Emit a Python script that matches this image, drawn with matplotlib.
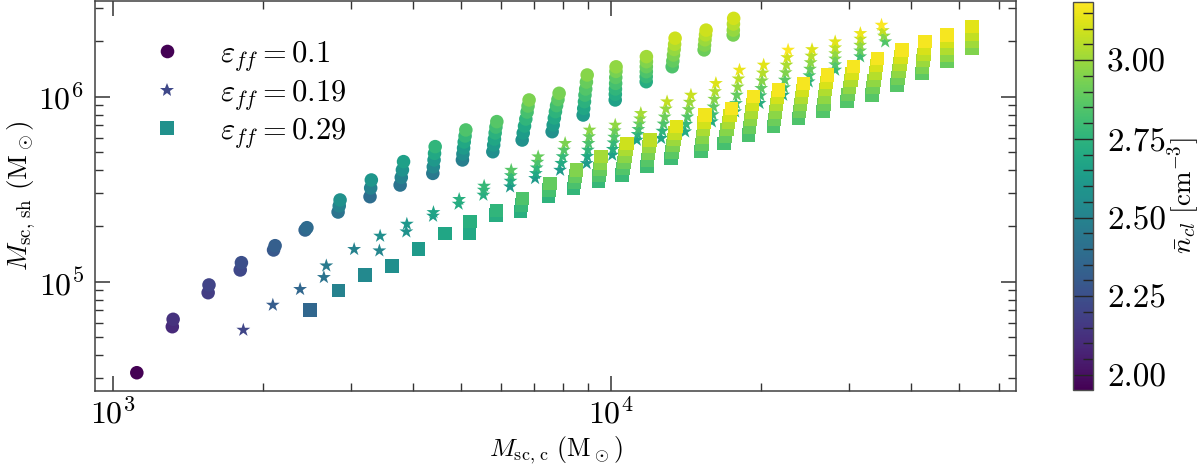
import matplotlib
matplotlib.use('Agg')
import matplotlib.pyplot as plt
from matplotlib.colors import Normalize
from matplotlib.ticker import MultipleLocator, FormatStrFormatter, NullFormatter
from matplotlib.lines import Line2D

plt.rcParams['font.family'] = 'serif'
plt.rcParams['font.serif'] = ['cmr10']
plt.rcParams['mathtext.fontset'] = 'cm'
plt.rcParams['axes.formatter.use_mathtext'] = True
plt.rcParams['axes.unicode_minus'] = False

# ---------------- data: eps_ff = 0.1 (circles) ----------------
circ_x = [1116,
          1315, 1320,
          1552, 1558,
          1800, 1810,
          2100, 2115,
          2430, 2450,
          2830, 2845, 2856,
          3280, 3290, 3300,
          3770, 3790, 3810, 3830,
          4385, 4395, 4410, 4420, 4433,
          5028, 5040, 5055, 5070, 5090, 5108,
          5787, 5810, 5830, 5850, 5870, 5895,
          6627, 6660, 6700, 6740, 6780, 6810, 6843,
          7612, 7650, 7690, 7730, 7770, 7820, 7862,
          8787, 8810, 8840, 8860, 8890, 8920, 8951,
          10190, 10195, 10200, 10210, 10215, 10225, 10230,
          11760, 11760, 11765, 11765, 11770, 11770,
          13260, 13300, 13340, 13380, 13410, 13440,
          15370, 15400, 15430, 15470, 15510,
          17580, 17590, 17600, 17620]
circ_y = [3.22e4,
          5.71e4, 6.26e4,
          8.72e4, 9.60e4,
          1.157e5, 1.267e5,
          1.484e5, 1.565e5,
          1.903e5, 1.958e5,
          2.38e5, 2.57e5, 2.765e5,
          2.88e5, 3.21e5, 3.546e5,
          3.33e5, 3.66e5, 4.02e5, 4.455e5,
          3.85e5, 4.18e5, 4.55e5, 4.94e5, 5.37e5,
          4.55e5, 4.90e5, 5.28e5, 5.69e5, 6.13e5, 6.61e5,
          5.04e5, 5.48e5, 5.90e5, 6.37e5, 6.85e5, 7.33e5,
          5.83e5, 6.36e5, 6.94e5, 7.57e5, 8.26e5, 8.90e5, 9.60e5,
          6.47e5, 7.03e5, 7.67e5, 8.30e5, 8.95e5, 9.65e5, 1.043e6,
          7.96e5, 8.64e5, 9.40e5, 1.02e6, 1.10e6, 1.20e6, 1.31e6,
          9.60e5, 1.03e6, 1.10e6, 1.18e6, 1.27e6, 1.37e6, 1.45e6,
          1.205e6, 1.283e6, 1.365e6, 1.452e6, 1.546e6, 1.646e6,
          1.452e6, 1.56e6, 1.68e6, 1.80e6, 1.92e6, 2.07e6,
          1.79e6, 1.90e6, 2.03e6, 2.16e6, 2.29e6,
          2.155e6, 2.29e6, 2.47e6, 2.65e6]
circ_n = [1.952,
          2.10, 2.13,
          2.17, 2.20,
          2.22, 2.25,
          2.29, 2.32,
          2.35, 2.38,
          2.42, 2.50, 2.57,
          2.39, 2.50, 2.60,
          2.42, 2.50, 2.58, 2.65,
          2.45, 2.53, 2.61, 2.69, 2.76,
          2.48, 2.55, 2.62, 2.69, 2.77, 2.84,
          2.56, 2.62, 2.68, 2.74, 2.80, 2.86,
          2.57, 2.63, 2.69, 2.76, 2.82, 2.88, 2.94,
          2.57, 2.63, 2.69, 2.75, 2.81, 2.87, 2.93,
          2.62, 2.68, 2.74, 2.80, 2.85, 2.90, 2.96,
          2.66, 2.71, 2.76, 2.82, 2.87, 2.93, 2.98,
          2.72, 2.78, 2.84, 2.90, 2.95, 3.01,
          2.84, 2.89, 2.94, 2.99, 3.04, 3.09,
          2.91, 2.95, 3.00, 3.05, 3.09,
          2.93, 2.99, 3.05, 3.10]

# ---------------- data: eps_ff = 0.19 (stars) ----------------
star_x = [1826,
          2093,
          2374,
          2650, 2680,
          3048,
          3425, 3437,
          3880, 3889,
          4390, 4398,
          4940, 4953,
          5540, 5550, 5559,
          6268, 6280, 6290, 6300,
          7036, 7060, 7085, 7110, 7136,
          7898, 7940, 7990, 8040, 8083,
          8930, 8955, 8980, 9005, 9030, 9050,
          10050, 10080, 10110, 10140, 10165, 10190,
          11260, 11300, 11340, 11390, 11430, 11470,
          12600, 12670, 12740, 12810, 12880, 12950,
          14080, 14150, 14230, 14310, 14380, 14460,
          15930, 15990, 16050, 16110, 16170, 16230,
          17740, 17810, 17880, 17950, 18020, 18100,
          19860, 19940, 20010, 20090, 20160, 20240,
          22150, 22240, 22320, 22400, 22490, 22570, 22660,
          24920, 25000, 25080, 25150, 25230, 25310,
          28170, 28170, 28170, 28170, 28170, 28170,
          31620, 31620, 31620, 31650, 31650,
          35500, 35300, 35100, 34900]
star_y = [5.48e4,
          7.48e4,
          9.10e4,
          1.056e5, 1.22e5,
          1.497e5,
          1.471e5, 1.766e5,
          1.863e5, 2.05e5,
          2.265e5, 2.37e5,
          2.63e5, 2.79e5,
          2.942e5, 3.13e5, 3.29e5,
          3.26e5, 3.50e5, 3.75e5, 4.01e5,
          3.62e5, 3.85e5, 4.13e5, 4.43e5, 4.74e5,
          4.01e5, 4.37e5, 4.75e5, 5.15e5, 5.60e5,
          4.36e5, 4.76e5, 5.15e5, 5.60e5, 6.09e5, 6.61e5,
          4.84e5, 5.20e5, 5.64e5, 6.05e5, 6.55e5, 7.03e5,
          5.83e5, 6.26e5, 6.66e5, 7.13e5, 7.60e5, 8.13e5,
          5.96e5, 6.52e5, 7.13e5, 7.78e5, 8.59e5, 9.40e5,
          6.47e5, 7.10e5, 7.78e5, 8.53e5, 9.35e5, 1.021e6,
          7.33e5, 8.00e5, 8.82e5, 9.70e5, 1.067e6, 1.181e6,
          8.30e5, 9.20e5, 1.021e6, 1.13e6, 1.25e6, 1.394e6,
          9.21e5, 1.013e6, 1.11e6, 1.22e6, 1.345e6, 1.484e6,
          1.021e6, 1.12e6, 1.231e6, 1.35e6, 1.484e6, 1.63e6, 1.788e6,
          1.205e6, 1.30e6, 1.41e6, 1.53e6, 1.66e6, 1.80e6,
          1.394e6, 1.49e6, 1.60e6, 1.71e6, 1.84e6, 1.983e6,
          1.646e6, 1.77e6, 1.90e6, 2.05e6, 2.20e6,
          1.983e6, 2.13e6, 2.28e6, 2.44e6]
star_n = [2.21,
          2.31,
          2.36,
          2.42, 2.46,
          2.50,
          2.52, 2.56,
          2.58, 2.61,
          2.64, 2.67,
          2.70, 2.73,
          2.72, 2.75, 2.78,
          2.62, 2.70, 2.78, 2.86,
          2.62, 2.69, 2.76, 2.83, 2.90,
          2.62, 2.70, 2.78, 2.86, 2.94,
          2.62, 2.69, 2.76, 2.83, 2.90, 2.97,
          2.65, 2.72, 2.78, 2.85, 2.91, 2.98,
          2.67, 2.74, 2.81, 2.88, 2.95, 3.02,
          2.68, 2.76, 2.84, 2.91, 2.99, 3.07,
          2.70, 2.78, 2.85, 2.93, 3.00, 3.08,
          2.72, 2.80, 2.88, 2.96, 3.04, 3.12,
          2.72, 2.81, 2.89, 2.98, 3.06, 3.15,
          2.72, 2.80, 2.88, 2.96, 3.05, 3.13,
          2.72, 2.80, 2.87, 2.95, 3.03, 3.10, 3.18,
          2.75, 2.82, 2.90, 2.97, 3.05, 3.12,
          2.78, 2.85, 2.92, 2.99, 3.06, 3.13,
          2.80, 2.89, 2.98, 3.06, 3.15,
          2.85, 2.96, 3.07, 3.18]

# ---------------- data: eps_ff = 0.29 (squares) ----------------
sq_x = [2487,
        2834,
        3206,
        3628,
        4102,
        4642,
        5200, 5211,
        5870, 5883,
        6580, 6610, 6640,
        7480, 7510, 7542,
        8400, 8440, 8480, 8520,
        9430, 9460, 9490, 9520, 9550,
        10520, 10560, 10600, 10650, 10700, 10750,
        11800, 11840, 11880, 11920, 11970,
        13190, 13250, 13320, 13380, 13450, 13520,
        15160, 15220, 15270, 15330, 15380, 15440,
        16860, 16970, 17080, 17200, 17310, 17430,
        18870, 18960, 19040, 19130, 19220, 19310,
        21180, 21280, 21380, 21480, 21580, 21680,
        23770, 23880, 23990, 24100, 24220, 24330,
        26610, 26730, 26840, 26960, 27080, 27190,
        29740, 29920, 30100, 30280, 30470, 30660,
        33390, 33560, 33740, 33910, 34090, 34260,
        37480, 37650, 37830, 38000, 38180, 38350,
        42070, 42190, 42310, 42430, 42540, 42660,
        47220, 47220, 47220, 47220, 47220,
        53000, 53000, 53000, 53000]
sq_y = [7.03e4,
        8.94e4,
        1.087e5,
        1.216e5,
        1.502e5,
        1.826e5,
        1.826e5, 2.11e5,
        2.294e5, 2.424e5,
        2.39e5, 2.597e5, 2.824e5,
        2.88e5, 3.131e5, 3.403e5,
        3.198e5, 3.458e5, 3.727e5, 4.015e5,
        3.471e5, 3.755e5, 4.065e5, 4.393e5, 4.74e5,
        3.773e5, 4.08e5, 4.42e5, 4.78e5, 5.17e5, 5.598e5,
        4.184e5, 4.548e5, 4.943e5, 5.366e5, 5.833e5,
        4.645e5, 5.023e5, 5.435e5, 5.876e5, 6.365e5, 6.884e5,
        5.042e5, 5.523e5, 6.054e5, 6.633e5, 7.261e5, 7.962e5,
        5.598e5, 6.107e5, 6.665e5, 7.271e5, 7.933e5, 8.655e5,
        6.207e5, 6.833e5, 7.509e5, 8.266e5, 9.098e5, 1.0e6,
        6.884e5, 7.538e5, 8.256e5, 9.051e5, 9.913e5, 1.087e6,
        7.643e5, 8.337e5, 9.098e5, 9.925e5, 1.083e6, 1.181e6,
        8.297e5, 9.098e5, 9.961e5, 1.091e6, 1.196e6, 1.31e6,
        9.396e5, 1.025e6, 1.118e6, 1.22e6, 1.331e6, 1.452e6,
        1.021e6, 1.118e6, 1.226e6, 1.343e6, 1.472e6, 1.613e6,
        1.157e6, 1.262e6, 1.376e6, 1.502e6, 1.639e6, 1.788e6,
        1.338e6, 1.447e6, 1.565e6, 1.692e6, 1.833e6, 1.983e6,
        1.546e6, 1.68e6, 1.826e6, 1.983e6, 2.155e6,
        1.826e6, 1.998e6, 2.185e6, 2.39e6]
sq_n = [2.36,
        2.50,
        2.53,
        2.56,
        2.62,
        2.68,
        2.69, 2.73,
        2.72, 2.76,
        2.73, 2.78, 2.84,
        2.75, 2.82, 2.89,
        2.77, 2.83, 2.89, 2.95,
        2.78, 2.84, 2.90, 2.96, 3.02,
        2.79, 2.85, 2.91, 2.97, 3.03, 3.09,
        2.80, 2.86, 2.93, 2.99, 3.06,
        2.80, 2.87, 2.94, 3.00, 3.07, 3.13,
        2.82, 2.89, 2.96, 3.03, 3.10, 3.16,
        2.82, 2.89, 2.96, 3.03, 3.10, 3.17,
        2.83, 2.90, 2.97, 3.03, 3.10, 3.17,
        2.84, 2.91, 2.97, 3.04, 3.10, 3.17,
        2.84, 2.91, 2.97, 3.04, 3.10, 3.17,
        2.85, 2.91, 2.98, 3.04, 3.11, 3.17,
        2.85, 2.91, 2.98, 3.04, 3.11, 3.17,
        2.86, 2.92, 2.98, 3.05, 3.11, 3.17,
        2.86, 2.92, 2.98, 3.05, 3.11, 3.17,
        2.88, 2.94, 3.00, 3.06, 3.11, 3.17,
        2.90, 2.97, 3.04, 3.10, 3.17,
        2.95, 3.01, 3.07, 3.13]

legend_labels = [r'$\varepsilon_{ff} = 0.1$', r'$\varepsilon_{ff} = 0.19$', r'$\varepsilon_{ff} = 0.29$']
n_min, n_max = 1.952, 3.185
cbar_ticks = [2.00, 2.25, 2.50, 2.75, 3.00]

# ---------------- figure ----------------
fig = plt.figure(figsize=(12, 4.66), dpi=100)
ax = fig.add_axes([0.0792, 0.1616, 0.7675, 0.8352])
cax = fig.add_axes([0.8942, 0.1631, 0.0167, 0.8326])

cmap = plt.get_cmap('viridis')
norm = Normalize(vmin=n_min, vmax=n_max)

sc = ax.scatter(circ_x, circ_y, c=circ_n, cmap=cmap, norm=norm, marker='o', s=95, linewidths=0)
ax.scatter(star_x, star_y, c=star_n, cmap=cmap, norm=norm, marker='*', s=110, linewidths=0)
ax.scatter(sq_x, sq_y, c=sq_n, cmap=cmap, norm=norm, marker='s', s=95, linewidths=0)

ax.set_xscale('log')
ax.set_yscale('log')
ax.set_xlim(920, 65000)
ax.set_ylim(25750, 3.27e6)
ax.xaxis.set_minor_formatter(NullFormatter())
ax.yaxis.set_minor_formatter(NullFormatter())

ax.tick_params(which='both', direction='in', top=True, right=True, labelsize=23,
               color='0.2')
ax.tick_params(axis='x', pad=5)
ax.tick_params(axis='y', pad=8)
ax.tick_params(which='major', length=11, width=1.1)
ax.tick_params(which='minor', length=5.5, width=1.0)
for sp in ax.spines.values():
    sp.set_linewidth(1.1)
    sp.set_color('0.25')

ax.set_xlabel(r'$M_{\rm sc,\,c}\ (\rm M_\odot)$', fontsize=18.5)
ax.set_ylabel(r'$M_{\rm sc,\,sh}\ (\rm M_\odot)$', fontsize=19.5)
ax.xaxis.set_label_coords(0.5, -0.112)
ax.yaxis.set_label_coords(-0.062, 0.5)

handles = [Line2D([], [], ls='', marker='o', markersize=9.8, markeredgewidth=0, color=cmap(norm(1.952))),
           Line2D([], [], ls='', marker='*', markersize=10.5, markeredgewidth=0, color=cmap(norm(2.22))),
           Line2D([], [], ls='', marker='s', markersize=9.8, markeredgewidth=0, color=cmap(norm(2.57)))]
ax.legend(handles, legend_labels, loc='upper left', bbox_to_anchor=(0.040, 0.935), frameon=False,
          fontsize=22, handlelength=1.5, handletextpad=1.0, labelspacing=0.15, borderaxespad=0)

cb = fig.colorbar(sc, cax=cax)
cb.set_ticks(cbar_ticks)
cax.yaxis.set_major_formatter(FormatStrFormatter('%.2f'))
cax.yaxis.set_minor_locator(MultipleLocator(0.05))
cax.tick_params(which='both', direction='in', labelsize=24, pad=10, color='0.15')
cax.tick_params(which='major', length=14, width=1.0)
cax.tick_params(which='minor', length=7, width=1.0)
cb.outline.set_linewidth(1.0)
cb.outline.set_edgecolor('0.3')
cb.set_label(r'$\bar{n}_{cl}\ [\mathrm{cm}^{-3}]$', fontsize=19.5)
cax.yaxis.set_label_coords(4.6, 0.5)

fig.savefig('out.png', dpi=100)
